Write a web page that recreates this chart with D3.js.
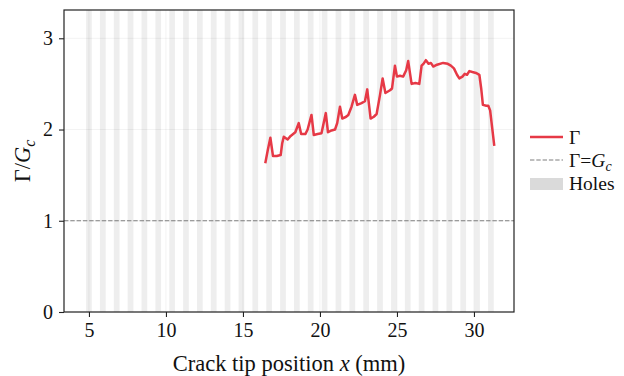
<!DOCTYPE html>
<html>
<head>
<meta charset="utf-8">
<script src="https://cdn.jsdelivr.net/npm/d3@7"></script>
<style>
body{margin:0;background:#fff;}
svg text{font-family:"Liberation Serif","DejaVu Serif",serif;fill:#111;}
</style>
</head>
<body>
<svg id="chart" width="624" height="376"></svg>
<script>
// Data
const crackX = [16.45,16.62,16.78,16.95,17.2,17.45,17.55,17.65,17.9,18.1,18.4,18.62,18.78,19.05,19.2,19.45,19.6,19.85,20.1,20.38,20.52,20.75,20.98,21.12,21.3,21.45,21.7,21.84,22.05,22.27,22.42,22.7,22.92,23.07,23.29,23.5,23.68,23.9,24.07,24.25,24.55,24.68,24.87,25.0,25.2,25.4,25.6,25.73,25.95,26.2,26.45,26.6,26.72,26.88,27.05,27.2,27.36,27.6,28.0,28.3,28.5,28.7,28.9,29.05,29.25,29.4,29.55,29.7,29.9,30.13,30.35,30.47,30.58,30.8,30.93,31.05,31.32];
const gammaRatio = [1.63,1.78,1.91,1.71,1.71,1.72,1.85,1.92,1.89,1.93,1.97,2.07,1.95,1.95,2.0,2.16,1.94,1.95,1.96,2.18,1.97,1.99,2.0,2.07,2.25,2.12,2.14,2.16,2.25,2.38,2.27,2.29,2.31,2.44,2.12,2.14,2.17,2.38,2.56,2.40,2.43,2.45,2.70,2.58,2.59,2.58,2.65,2.75,2.50,2.51,2.50,2.70,2.72,2.76,2.72,2.73,2.69,2.71,2.73,2.72,2.70,2.67,2.60,2.56,2.58,2.61,2.60,2.64,2.63,2.62,2.60,2.45,2.27,2.26,2.26,2.21,1.82];
const holeCenters = d3.range(30).map(i => +(5.0 + 0.9 * i).toFixed(2));
const holeDiameter = 0.37;
const xTicks = [5,10,15,20,25,30];
const yTicks = [0,1,2,3];
const gcLevel = 1;

const svg = d3.select("#chart");
const m = {left:64, right:514, top:10, bottom:312};
const x = d3.scaleLinear().domain([3.38, 32.6]).range([m.left, m.right]);
const y = d3.scaleLinear().domain([0, 3.31]).range([m.bottom, m.top]);

// holes
svg.append("g").selectAll("rect").data(holeCenters).join("rect")
  .attr("x", d => x(d - holeDiameter/2))
  .attr("width", d => x(d + holeDiameter/2) - x(d - holeDiameter/2))
  .attr("y", m.top).attr("height", m.bottom - m.top)
  .attr("fill", "#d3d3d3").attr("fill-opacity", 0.38);

// grid
const grid = svg.append("g").attr("stroke", "#000").attr("stroke-opacity", 0.05).attr("stroke-width", 1);
grid.selectAll(".gy").data(yTicks).join("line")
  .attr("x1", m.left).attr("x2", m.right)
  .attr("y1", d => y(d)).attr("y2", d => y(d));
grid.selectAll(".gx").data(xTicks).join("line")
  .attr("y1", m.top).attr("y2", m.bottom)
  .attr("x1", d => x(d)).attr("x2", d => x(d));

// Gc line
svg.append("line")
  .attr("x1", m.left).attr("x2", m.right)
  .attr("y1", y(gcLevel)).attr("y2", y(gcLevel))
  .attr("stroke", "#7f7f7f").attr("stroke-width", 1.2).attr("stroke-dasharray", "4.4,1.9");

// Gamma line
const line = d3.line().x((d,i) => x(crackX[i])).y(d => y(d));
svg.append("path").datum(gammaRatio)
  .attr("d", line).attr("fill", "none")
  .attr("stroke", "#e63946").attr("stroke-width", 2.5).attr("stroke-linejoin", "round");

// frame
svg.append("rect").attr("x", m.left).attr("y", m.top)
  .attr("width", m.right - m.left).attr("height", m.bottom - m.top)
  .attr("fill", "none").attr("stroke", "#222").attr("stroke-width", 1.2);

// axes
const xAxis = svg.append("g").attr("transform", `translate(0,${m.bottom})`)
  .call(d3.axisBottom(x).tickValues(xTicks).tickSize(5).tickPadding(6).tickFormat(d3.format("d")));
const yAxis = svg.append("g").attr("transform", `translate(${m.left},0)`)
  .call(d3.axisLeft(y).tickValues(yTicks).tickSize(5).tickPadding(6).tickFormat(d3.format("d")));
[xAxis, yAxis].forEach(a => {
  a.select(".domain").remove();
  a.selectAll(".tick line").attr("stroke", "#222").attr("stroke-width", 1.1);
  a.selectAll("text").attr("font-size", 20).attr("fill", "#111")
    .style("font-family", '"Liberation Serif", serif');
});

// x label
const xl = svg.append("text").attr("x", 289).attr("y", 371).attr("text-anchor", "middle").attr("font-size", 22.5);
xl.append("tspan").text("Crack tip position ");
xl.append("tspan").attr("font-style", "italic").text("x");
xl.append("tspan").text(" (mm)");

// y label
const yl = svg.append("text").attr("transform", "translate(30,161) rotate(-90)").attr("text-anchor", "middle").attr("font-size", 22.5);
yl.append("tspan").text("Γ/");
yl.append("tspan").attr("font-style", "italic").text("G");
yl.append("tspan").attr("font-style", "italic").attr("font-size", 16).attr("dy", 5).text("c");

// legend
const lg = svg.append("g");
lg.append("line").attr("x1", 530).attr("x2", 563).attr("y1", 137).attr("y2", 137)
  .attr("stroke", "#e63946").attr("stroke-width", 2.5);
lg.append("text").attr("x", 569).attr("y", 144).attr("font-size", 19.5).text("Γ");
lg.append("line").attr("x1", 530).attr("x2", 563).attr("y1", 160).attr("y2", 160)
  .attr("stroke", "#7f7f7f").attr("stroke-width", 1.2).attr("stroke-dasharray", "4.4,1.9");
const t2 = lg.append("text").attr("x", 569).attr("y", 167).attr("font-size", 19.5);
t2.append("tspan").text("Γ=");
t2.append("tspan").attr("font-style", "italic").text("G");
t2.append("tspan").attr("font-style", "italic").attr("font-size", 14).attr("dy", 4).text("c");
lg.append("rect").attr("x", 530).attr("y", 178).attr("width", 33).attr("height", 12)
  .attr("fill", "#d3d3d3").attr("fill-opacity", 0.85);
lg.append("text").attr("x", 569).attr("y", 190).attr("font-size", 19.5).text("Holes");
</script>
</body>
</html>
